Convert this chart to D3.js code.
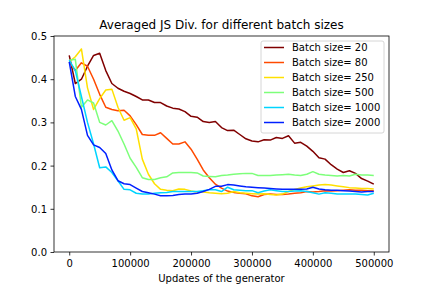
<!DOCTYPE html>
<html>
<head>
<meta charset="utf-8">
<script src="https://cdn.jsdelivr.net/npm/d3@7"></script>
<style>
  body { margin: 0; background: #fff; }
  text { font-family: "DejaVu Sans", sans-serif; fill: #000; }
</style>
</head>
<body>
<div id="chart"></div>
<script>
const updates = [0, 10000, 20000, 30000, 40000, 50000, 60000, 70000, 80000, 90000,
  100000, 110000, 120000, 130000, 140000, 150000, 160000, 170000, 180000, 190000,
  200000, 210000, 220000, 230000, 240000, 250000, 260000, 270000, 280000, 290000,
  300000, 310000, 320000, 330000, 340000, 350000, 360000, 370000, 380000, 390000,
  400000, 410000, 420000, 430000, 440000, 450000, 460000, 470000, 480000, 490000, 500000];

const batch20 = [0.455, 0.39, 0.40, 0.43, 0.455, 0.46, 0.42, 0.39, 0.379, 0.372,
  0.367, 0.36, 0.352, 0.352, 0.346, 0.346, 0.338, 0.333, 0.331, 0.325,
  0.314, 0.312, 0.302, 0.30, 0.302, 0.288, 0.281, 0.282, 0.272, 0.262,
  0.257, 0.255, 0.26, 0.259, 0.265, 0.263, 0.269, 0.252, 0.254, 0.245,
  0.233, 0.218, 0.215, 0.202, 0.192, 0.184, 0.188, 0.182, 0.17, 0.164, 0.157];
const batch80 = [0.44, 0.42, 0.438, 0.43, 0.40, 0.365, 0.335, 0.33, 0.327, 0.328,
  0.315, 0.295, 0.272, 0.27, 0.27, 0.276, 0.263, 0.25, 0.25, 0.255,
  0.238, 0.215, 0.19, 0.172, 0.157, 0.148, 0.141, 0.138, 0.136, 0.135,
  0.13, 0.128, 0.133, 0.134, 0.133, 0.133, 0.134, 0.136, 0.137, 0.14,
  0.139, 0.14, 0.142, 0.141, 0.142, 0.143, 0.144, 0.143, 0.143, 0.142, 0.142];
const batch250 = [0.44, 0.452, 0.47, 0.38, 0.33, 0.355, 0.375, 0.377, 0.335, 0.305,
  0.311, 0.285, 0.215, 0.18, 0.158, 0.145, 0.143, 0.142, 0.146, 0.145,
  0.141, 0.139, 0.139, 0.137, 0.136, 0.135, 0.136, 0.14, 0.137, 0.136,
  0.135, 0.134, 0.135, 0.133, 0.132, 0.134, 0.14, 0.145, 0.148, 0.151,
  0.153, 0.155, 0.156, 0.155, 0.153, 0.151, 0.149, 0.148, 0.147, 0.147, 0.146];
const batch500 = [0.444, 0.446, 0.335, 0.352, 0.345, 0.30, 0.294, 0.304, 0.28, 0.25,
  0.217, 0.196, 0.172, 0.168, 0.168, 0.172, 0.174, 0.183, 0.184, 0.184,
  0.184, 0.183, 0.176, 0.175, 0.174, 0.177, 0.178, 0.18, 0.181, 0.182,
  0.182, 0.177, 0.177, 0.177, 0.178, 0.179, 0.18, 0.178, 0.177, 0.18,
  0.186, 0.18, 0.178, 0.177, 0.176, 0.177, 0.176, 0.18, 0.178, 0.178, 0.177];
const batch1000 = [0.444, 0.42, 0.36, 0.30, 0.25, 0.195, 0.197, 0.184, 0.165, 0.145,
  0.144, 0.136, 0.134, 0.134, 0.136, 0.137, 0.138, 0.14, 0.14, 0.14,
  0.14, 0.14, 0.142, 0.144, 0.144, 0.14, 0.15, 0.144, 0.143, 0.142,
  0.142, 0.137, 0.141, 0.144, 0.142, 0.14, 0.14, 0.141, 0.142, 0.14,
  0.137, 0.134, 0.137, 0.136, 0.134, 0.134, 0.134, 0.134, 0.133, 0.132, 0.136];
const batch2000 = [0.44, 0.36, 0.33, 0.27, 0.248, 0.242, 0.228, 0.19, 0.165, 0.158,
  0.156, 0.148, 0.14, 0.137, 0.134, 0.13, 0.13, 0.131, 0.133, 0.134,
  0.134, 0.136, 0.14, 0.145, 0.152, 0.152, 0.156, 0.155, 0.153, 0.151,
  0.15, 0.149, 0.148, 0.147, 0.146, 0.145, 0.145, 0.145, 0.145, 0.146,
  0.15, 0.146, 0.144, 0.143, 0.143, 0.142, 0.141, 0.14, 0.139, 0.14, 0.14];

const labels = ["Batch size= 20", "Batch size= 80", "Batch size= 250",
  "Batch size= 500", "Batch size= 1000", "Batch size= 2000"];
const colors = ["#800000", "#ff4a00", "#ffe000", "#7dff7a", "#00d4ff", "#0020ff"];
const series = [batch20, batch80, batch250, batch500, batch1000, batch2000];

const xTicks = [0, 100000, 200000, 300000, 400000, 500000];
const yTicks = [0.0, 0.1, 0.2, 0.3, 0.4, 0.5];

const margin = { top: 36, right: 43, bottom: 36, left: 54 };
const outerWidth = 432;
const outerHeight = 288;
const innerWidth = outerWidth - margin.left - margin.right;
const innerHeight = outerHeight - margin.top - margin.bottom;

const svg = d3.select("#chart").append("svg")
  .attr("width", outerWidth)
  .attr("height", outerHeight);

const g = svg.append("g")
  .attr("transform", "translate(" + margin.left + "," + margin.top + ")");

const xScale = d3.scaleLinear().domain([-25000, 525000]).range([0, innerWidth]);
const yScale = d3.scaleLinear().domain([0, 0.5]).range([innerHeight, 0]);

const xAxis = d3.axisBottom(xScale).tickValues(xTicks).tickSize(3.5).tickPadding(3.5)
  .tickFormat(d3.format("d"));
const yAxis = d3.axisLeft(yScale).tickValues(yTicks).tickSize(3.5).tickPadding(3.5)
  .tickFormat(d3.format(".1f"));

const lineGen = d3.line()
  .x(function(d, i) { return xScale(updates[i]); })
  .y(function(d) { return yScale(d); });

series.forEach(function(s, i) {
  g.append("path")
    .attr("d", lineGen(s))
    .attr("fill", "none")
    .attr("stroke", colors[i])
    .attr("stroke-width", 1.5)
    .attr("stroke-linejoin", "round");
});

const xAxisGroup = g.append("g")
  .attr("transform", "translate(0," + innerHeight + ")")
  .call(xAxis);
const yAxisGroup = g.append("g").call(yAxis);

[xAxisGroup, yAxisGroup].forEach(function(ax) {
  ax.select(".domain").remove();
  ax.selectAll(".tick line").attr("stroke", "#000").attr("stroke-width", 0.8);
  ax.selectAll(".tick text").attr("font-size", 10).attr("fill", "#000")
    .attr("font-family", "DejaVu Sans");
});
// plain baseline offsets instead of em shifts
xAxisGroup.selectAll(".tick text").attr("dy", null).attr("y", 14.5);
yAxisGroup.selectAll(".tick text").attr("dy", null).attr("y", 3.5);

// frame
g.append("rect")
  .attr("width", innerWidth)
  .attr("height", innerHeight)
  .attr("fill", "none")
  .attr("stroke", "#000")
  .attr("stroke-width", 0.8);

// title and label
svg.append("text")
  .attr("x", margin.left + innerWidth / 2)
  .attr("y", margin.top - 7)
  .attr("text-anchor", "middle")
  .attr("font-size", 12)
  .text("Averaged JS Div. for different batch sizes");

svg.append("text")
  .attr("x", margin.left + innerWidth / 2)
  .attr("y", outerHeight - 6)
  .attr("text-anchor", "middle")
  .attr("font-size", 10)
  .text("Updates of the generator");

// legend
const legend = g.append("g").attr("transform", "translate(" + (innerWidth - 128) + ",5)");
legend.append("rect")
  .attr("width", 123)
  .attr("height", 92)
  .attr("rx", 2)
  .attr("fill", "#fff")
  .attr("fill-opacity", 0.8)
  .attr("stroke", "#ccc")
  .attr("stroke-width", 0.8);

labels.forEach(function(lab, i) {
  const row = legend.append("g").attr("transform", "translate(0," + (6.5 + i * 15) + ")");
  row.append("line")
    .attr("x1", 3).attr("x2", 23)
    .attr("stroke", colors[i])
    .attr("stroke-width", 1.5);
  row.append("text")
    .attr("x", 31)
    .attr("y", 3.5)
    .attr("font-size", 10)
    .text(lab);
});
</script>
</body>
</html>
